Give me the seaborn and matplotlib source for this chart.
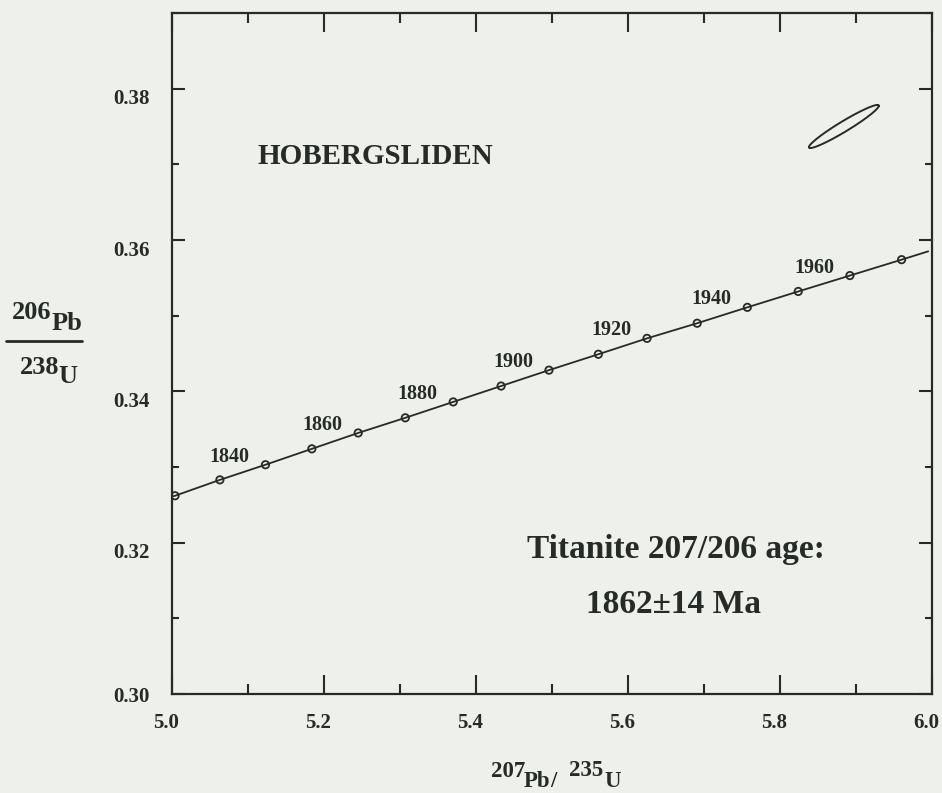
import numpy as np
import pandas as pd
import matplotlib
matplotlib.use("Agg")
import matplotlib.pyplot as plt
import matplotlib.transforms as mtransforms
from matplotlib.lines import Line2D
from matplotlib.ticker import MultipleLocator
import seaborn as sns

# ---------------- data ----------------
ages = [1820, 1830, 1840, 1850, 1860, 1870, 1880, 1890,
        1900, 1910, 1920, 1930, 1940, 1950, 1960, 1970]
pb207_u235 = [5.004, 5.063, 5.123, 5.184, 5.245, 5.307, 5.370, 5.433,
              5.496, 5.561, 5.625, 5.691, 5.757, 5.824, 5.892, 5.960]
pb206_u238 = [0.3262, 0.3283, 0.3303, 0.3324, 0.3345, 0.3365, 0.3386, 0.3407,
              0.3428, 0.3449, 0.3470, 0.3490, 0.3511, 0.3532, 0.3553, 0.3574]
# concordia curve ends at the frame
curve_start = (5.000, 0.3261)
curve_end = (5.995, 0.3585)
labelled_ages = [1840, 1860, 1880, 1900, 1920, 1940, 1960]

# error ellipse of the titanite analysis
ell_x, ell_y = 5.884, 0.3750
ell_sx, ell_sy, ell_rho = 0.046, 0.00285, 0.96

x_ticks = [5.0, 5.2, 5.4, 5.6, 5.8, 6.0]
y_ticks = [0.30, 0.32, 0.34, 0.36, 0.38]
x_tick_labels = ["5.0", "5.2", "5.4", "5.6", "5.8", "6.0"]
y_tick_labels = ["0.30", "0.32", "0.34", "0.36", "0.38"]

title_text = "HOBERGSLIDEN"
age_line1 = "Titanite 207/206 age:"
age_line2 = "1862\u00b114 Ma"

# ---------------- style ----------------
W, H, DPI = 942, 793, 100
BG = "#edf0eb"
INK = "#262b27"

sns.set_theme(style="ticks")
plt.rcParams["font.family"] = ["Liberation Serif", "DejaVu Serif"]
plt.rcParams["font.weight"] = "bold"

fig = plt.figure(figsize=(W / DPI, H / DPI), dpi=DPI, facecolor=BG)
L, R, T, B = 172, 932, 13, 694
ax = fig.add_axes([L / W, 1 - B / H, (R - L) / W, (B - T) / H])
ax.set_facecolor(BG)

# concordia curve
curve = pd.DataFrame({
    "x": [curve_start[0]] + pb207_u235 + [curve_end[0]],
    "y": [curve_start[1]] + pb206_u238 + [curve_end[1]],
})
sns.lineplot(data=curve, x="x", y="y", sort=False, estimator=None,
             color=INK, linewidth=1.3, ax=ax)

pts = pd.DataFrame({"age": ages, "x": pb207_u235, "y": pb206_u238})
sns.scatterplot(data=pts, x="x", y="y", marker="o", s=28,
                facecolors="none", edgecolor=INK, linewidth=1.3,
                ax=ax, zorder=3)

# age labels
for a in labelled_ages:
    r = pts[pts.age == a].iloc[0]
    ax.annotate(str(a), (r.x, r.y), xytext=(-36, 3), textcoords="offset pixels",
                ha="center", va="baseline", fontsize=14.5, fontweight="bold",
                color=INK)

# error ellipse
th = np.linspace(0, 2 * np.pi, 240)
u = np.cos(th)
v = ell_rho * np.cos(th) + np.sqrt(1 - ell_rho ** 2) * np.sin(th)
ell = pd.DataFrame({"x": ell_x + ell_sx * u, "y": ell_y + ell_sy * v})
sns.lineplot(data=ell, x="x", y="y", sort=False, estimator=None,
             color=INK, linewidth=1.4, ax=ax)

# annotations
ax.text(5.267, 0.3701, title_text, ha="center", va="baseline",
        fontsize=21, fontweight="bold", color=INK)
ax.text(5.663, 0.3180, age_line1, ha="center", va="baseline",
        fontsize=24, fontweight="bold", color=INK)
ax.text(5.660, 0.3107, age_line2, ha="center", va="baseline",
        fontsize=24, fontweight="bold", color=INK)

# axes
ax.set_xlim(5.0, 6.0)
ax.set_ylim(0.30, 0.39)
ax.set_xticks(x_ticks)
ax.set_xticklabels(x_tick_labels)
ax.set_yticks(y_ticks)
ax.set_yticklabels(y_tick_labels)
ax.xaxis.set_minor_locator(MultipleLocator(0.1))
ax.yaxis.set_minor_locator(MultipleLocator(0.01))
ax.set_xlabel("")
ax.set_ylabel("")

for s in ax.spines.values():
    s.set_visible(True)
    s.set_linewidth(1.6)
    s.set_color(INK)

ax.tick_params(axis="x", which="major", direction="in", length=13.5, width=1.5,
               top=True, bottom=True, color=INK, labelcolor=INK,
               labelsize=15, pad=14)
ax.tick_params(axis="x", which="minor", direction="in", length=7, width=1.5,
               top=True, bottom=True, color=INK)
ax.tick_params(axis="y", which="major", direction="in", length=9.5, width=1.5,
               left=True, right=True, color=INK, labelcolor=INK,
               labelsize=15, pad=16)
ax.tick_params(axis="y", which="minor", direction="in", length=5, width=1.5,
               left=True, right=True, color=INK)
for lab in ax.get_xticklabels() + ax.get_yticklabels():
    lab.set_fontweight("bold")

shift_x = mtransforms.ScaledTranslation(-6 / DPI, 0, fig.dpi_scale_trans)
for lab in ax.get_xticklabels():
    lab.set_transform(lab.get_transform() + shift_x)
shift_y = mtransforms.ScaledTranslation(0, -8 / DPI, fig.dpi_scale_trans)
for lab in ax.get_yticklabels()[1:]:
    lab.set_transform(lab.get_transform() + shift_y)


def fpos(px, py):
    return px / W, 1 - py / H


def piece(txt, px, py, size):
    fx, fy = fpos(px, py)
    fig.text(fx, fy, txt, ha="left", va="baseline", fontsize=size,
             fontweight="bold", color=INK)


# y-axis label: 206Pb / 238U as a fraction
piece("206", 12, 319, 19)
piece("Pb", 52, 330, 19)
x0, y0 = fpos(6, 341)
x1, _ = fpos(82, 341)
fig.add_artist(Line2D([x0, x1], [y0, y0], transform=fig.transFigure,
                      color=INK, linewidth=2.0))
piece("238", 20, 374, 19)
piece("U", 58, 383, 19)

# x-axis label: 207Pb/235U
piece("207", 491, 777, 16.5)
piece("Pb", 524, 787, 16.5)
piece("/", 550, 787, 16.5)
piece("235", 569, 776, 16.5)
piece("U", 604, 787, 16.5)

fig.savefig("out.png", dpi=DPI, facecolor=BG)
